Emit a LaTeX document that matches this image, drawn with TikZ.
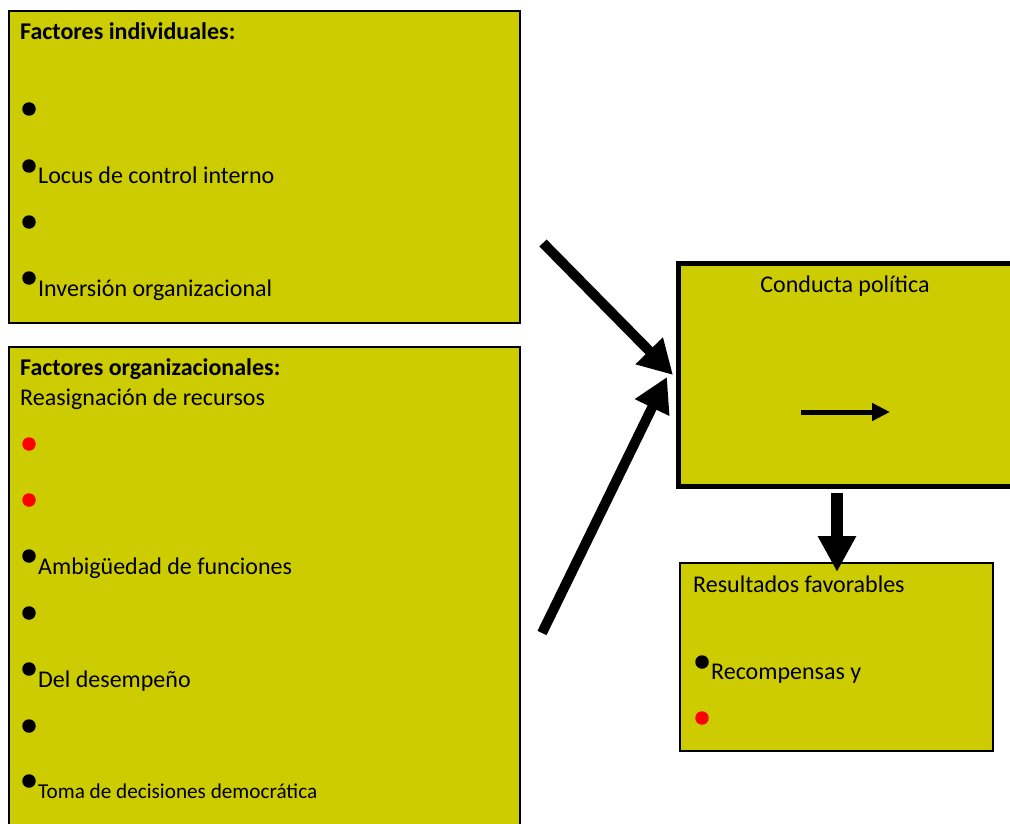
\documentclass[tikz,border=0pt]{standalone}
\usepackage{fontspec}
\setmainfont{Carlito}
\usetikzlibrary{arrows.meta}
\definecolor{boxfill}{RGB}{204,204,0}
\definecolor{bulred}{RGB}{255,0,0}
\tikzset{
  panel/.style={draw=black, fill=boxfill, line width=2pt, inner sep=0pt, anchor=north west},
  mainpanel/.style={draw=black, fill=boxfill, line width=5pt, inner sep=0pt, anchor=north west},
  txt/.style={inner sep=0pt, anchor=base west, font=\fontsize{24}{28}\selectfont},
  boldtxt/.style={txt, font=\fontsize{24}{28}\selectfont\bfseries},
  smalltxt/.style={inner sep=0pt, anchor=base west, font=\fontsize{21.2}{25}\selectfont},
  bul/.style={circle, fill=black, inner sep=0pt, minimum size=13.5pt},
  redbul/.style={circle, fill=bulred, inner sep=0pt, minimum size=13.5pt},
  bigarrow/.style={line width=10pt, -{Triangle[length=34pt,width=36pt]}},
  downarrow/.style={line width=12pt, -{Triangle[length=36pt,width=36pt]}},
  smallarrow/.style={line width=5pt, -{Triangle[length=18pt,width=17pt]}}
}
\begin{document}
\begin{tikzpicture}[x=1pt,y=-1pt]
\useasboundingbox (0,0) rectangle (1010,824);
\clip (0,0) rectangle (1010,824);
\fill[white] (0,0) rectangle (1010,824);
% boxes
\node[panel, minimum width=511pt, minimum height=312pt] (ind) at (8,10) {};
\node[panel, minimum width=511pt, minimum height=500pt] (org) at (8,346) {};
\node[mainpanel, minimum width=380pt, minimum height=223pt] (cp) at (675.5,260.5) {};
\node[panel, minimum width=313pt, minimum height=188pt] (res) at (679,562) {};
% box 1 content
\node[boldtxt] (t1) at (20,40) {Factores individuales:};
\node[bul] (b11) at (29,109) {};
\node[bul] (b12) at (29,166) {};
\node[txt] (t12) at (38,183) {Locus de control interno};
\node[bul] (b13) at (29,222) {};
\node[bul] (b14) at (29,278) {};
\node[txt] (t14) at (38,296) {Inversión organizacional};
% box 2 content
\node[boldtxt] (t2) at (20,375) {Factores organizacionales:};
\node[txt] (t21) at (20,405) {Reasignación de recursos};
\node[redbul] (b21) at (29,444) {};
\node[redbul] (b22) at (29,500) {};
\node[bul] (b23) at (29,556) {};
\node[txt] (t23) at (38,574) {Ambigüedad de funciones};
\node[bul] (b24) at (29,613) {};
\node[bul] (b25) at (29,669) {};
\node[txt] (t25) at (38,687) {Del desempeño};
\node[bul] (b26) at (29,726) {};
\node[bul] (b27) at (29,781) {};
\node[smalltxt] (t27) at (38,798) {Toma de decisiones democrática};
% box 3 content
\node[inner sep=0pt, anchor=base, font=\fontsize{24}{28}\selectfont] (t3) at (845,292) {Conducta política};
\coordinate (sa1) at (801,412);
\coordinate (sa2) at (890,412);
\draw[smallarrow] (sa1) -- (sa2);
% box 4 content
\node[txt] (t4) at (693,592) {Resultados favorables};
\node[bul] (b41) at (702,662) {};
\node[txt] (t41) at (711,679) {Recompensas y};
\node[redbul] (b42) at (702,718) {};
% connectors
\coordinate (a1s) at (543,243);
\coordinate (a1e) at (673,375);
\coordinate (a2s) at (542,633);
\coordinate (a2e) at (667,377);
\draw[bigarrow] (a1s) -- (a1e);
\draw[bigarrow] (a2s) -- (a2e);
\coordinate (a3s) at (837,493);
\coordinate (a3e) at (837,572);
\draw[downarrow] (a3s) -- (a3e);
\end{tikzpicture}
\end{document}
